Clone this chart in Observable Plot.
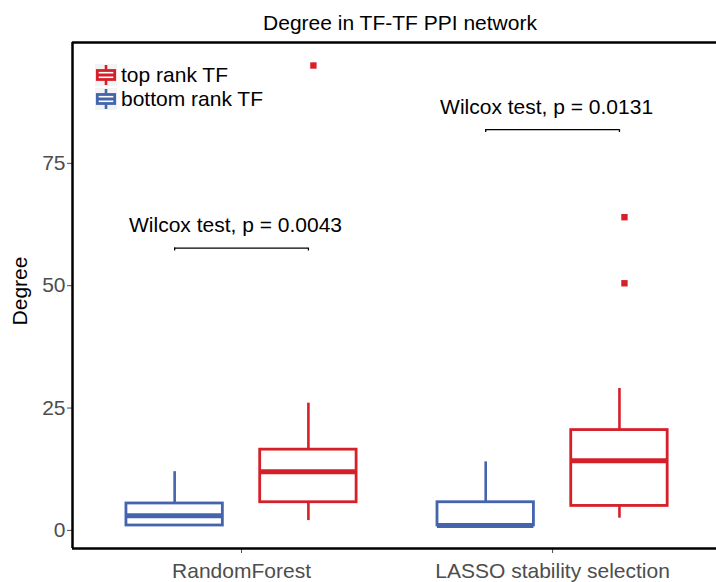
<!DOCTYPE html>
<html>
<head>
<meta charset="utf-8">
<script src="https://cdn.jsdelivr.net/npm/d3@7"></script>
<script src="https://cdn.jsdelivr.net/npm/@observablehq/plot@0.6"></script>
<style>
  html, body { margin: 0; padding: 0; background: #fff; }
  #wrap { position: relative; width: 716px; height: 582px; overflow: hidden; font-family: "Liberation Sans", Arial, Helvetica, sans-serif; }
  #title { position: absolute; left: 400px; top: 11px; transform: translateX(-50%); white-space: nowrap; font-size: 21px; line-height: 24px; color: #000; }
  #ylab { position: absolute; left: 20px; top: 291px; transform: translate(-50%, -50%) rotate(-90deg); white-space: nowrap; font-size: 21px; line-height: 24px; color: #000; }
  #legend { position: absolute; left: 95px; top: 63px; font-size: 21px; line-height: 24px; color: #000; }
  .key { display: flex; align-items: center; height: 24px; white-space: nowrap; }
  .key svg { margin-right: 4px; background: #f3f3f3; }
  #chart { position: absolute; left: 0; top: 0; }
</style>
</head>
<body>
<div id="wrap">
  <div id="chart"></div>
  <div id="title">Degree in TF-TF PPI network</div>
  <div id="ylab">Degree</div>
  <div id="legend"></div>
</div>
<script>
// ---- data ----
const methods = ["RandomForest", "LASSO stability selection"];
const groups = ["bottom rank TF", "top rank TF"];
const groupColors = ["#4464ae", "#d5202a"];
const legendOrder = ["top rank TF", "bottom rank TF"];

const boxMethod = ["RandomForest", "RandomForest", "LASSO stability selection", "LASSO stability selection"];
const boxGroup = ["bottom rank TF", "top rank TF", "bottom rank TF", "top rank TF"];
const whiskerLow = [1, 2, 1, 2.5];
const q1 = [1, 5.75, 1, 5];
const median = [3, 12, 1, 14.25];
const q3 = [5.5, 16.5, 5.75, 20.5];
const whiskerHigh = [12, 26, 14, 29];

const outlierMethod = ["RandomForest", "LASSO stability selection", "LASSO stability selection"];
const outlierGroup = ["top rank TF", "top rank TF", "top rank TF"];
const outlierValue = [95, 64, 50.5];

const bracketMethod = ["RandomForest", "LASSO stability selection"];
const bracketY = [57.7, 81.9];
const bracketLabel = ["Wilcox test, p = 0.0043", "Wilcox test, p = 0.0131"];

const yTicks = [0, 25, 50, 75];

// ---- layout helpers ----
const dodge = 0.215, halfW = 0.155, tip = 0.6;
const center = (m, g) => methods.indexOf(m) + 1 + (g === groups[0] ? -dodge : dodge);

const boxes = boxMethod.map((m, i) => ({
  method: m, group: boxGroup[i],
  cx: center(m, boxGroup[i]),
  lo: whiskerLow[i], q1: q1[i], med: median[i], q3: q3[i], hi: whiskerHigh[i]
}));
boxes.forEach(d => { d.x1 = d.cx - halfW; d.x2 = d.cx + halfW; });

const outliers = outlierMethod.map((m, i) => ({
  group: outlierGroup[i], cx: center(m, outlierGroup[i]), v: outlierValue[i]
}));

const brackets = bracketMethod.map((m, i) => ({
  xa: center(m, groups[0]), xb: center(m, groups[1]),
  xm: methods.indexOf(m) + 1, y: bracketY[i], yt: bracketY[i] - tip, label: bracketLabel[i]
}));
const tips = brackets.flatMap(b => [{x: b.xa, y1: b.yt, y2: b.y}, {x: b.xb, y1: b.yt, y2: b.y}]);

const xDomain = [0.4566, 2.527];
const yDomain = [-3.7, 99.7];

const chart = Plot.plot({
  width: 716,
  height: 582,
  marginTop: 42,
  marginBottom: 34,
  marginLeft: 72,
  marginRight: 0,
  style: {
    fontFamily: '"Liberation Sans", Arial, Helvetica, sans-serif',
    fontSize: "21px",
    color: "#4d4d4d",
    background: "transparent",
    overflow: "visible"
  },
  x: {
    domain: xDomain,
    ticks: [1, 2],
    tickFormat: d => methods[Math.round(d) - 1],
    tickSize: 5,
    tickPadding: 10,
    label: null
  },
  y: {
    domain: yDomain,
    ticks: yTicks,
    tickSize: 5,
    tickPadding: 2,
    label: null
  },
  color: { domain: groups, range: groupColors },
  marks: [
    // panel lines
    Plot.ruleX([xDomain[0]], {stroke: "#000", strokeWidth: 2.5}),
    Plot.ruleY([yDomain[0], yDomain[1]], {stroke: "#000", strokeWidth: 2.5}),
    // whiskers
    Plot.ruleX(boxes, {x: "cx", y1: "lo", y2: "q1", stroke: "group", strokeWidth: 2.6}),
    Plot.ruleX(boxes, {x: "cx", y1: "q3", y2: "hi", stroke: "group", strokeWidth: 2.6}),
    // boxes
    Plot.rect(boxes, {x1: "x1", x2: "x2", y1: "q1", y2: "q3", stroke: "group", fill: "white", strokeWidth: 2.8}),
    // medians
    Plot.ruleY(boxes, {y: "med", x1: "x1", x2: "x2", stroke: "group", strokeWidth: 5}),
    // outliers
    Plot.dot(outliers, {x: "cx", y: "v", fill: "group", symbol: "square", r: 3.6, dx: 5}),
    // significance brackets
    Plot.ruleY(brackets, {y: "y", x1: "xa", x2: "xb", stroke: "#000", strokeWidth: 1.3}),
    Plot.ruleX(tips, {x: "x", y1: "y1", y2: "y2", stroke: "#000", strokeWidth: 1.3}),
    Plot.text(brackets, {x: "xm", y: "y", text: "label", textAnchor: "middle", lineAnchor: "bottom", dy: -16, dx: -6, fill: "#000", fontSize: 21})
  ]
});
document.getElementById("chart").appendChild(chart);

// legend (boxplot key icons)
const colorOf = g => groupColors[groups.indexOf(g)];
const legend = document.getElementById("legend");
legendOrder.forEach(g => {
  const c = colorOf(g);
  const row = document.createElement("div");
  row.className = "key";
  row.innerHTML =
    `<svg width="22" height="22" viewBox="0 0 22 22">
      <line x1="11" x2="11" y1="1" y2="6.5" stroke="${c}" stroke-width="2.6"/>
      <line x1="11" x2="11" y1="15.5" y2="21" stroke="${c}" stroke-width="2.6"/>
      <rect x="2.3" y="6.5" width="17.4" height="9" fill="white" stroke="${c}" stroke-width="2.8"/>
      <line x1="2.3" x2="19.7" y1="11" y2="11" stroke="${c}" stroke-width="3"/>
    </svg><span>${g}</span>`;
  legend.appendChild(row);
});
</script>
</body>
</html>
